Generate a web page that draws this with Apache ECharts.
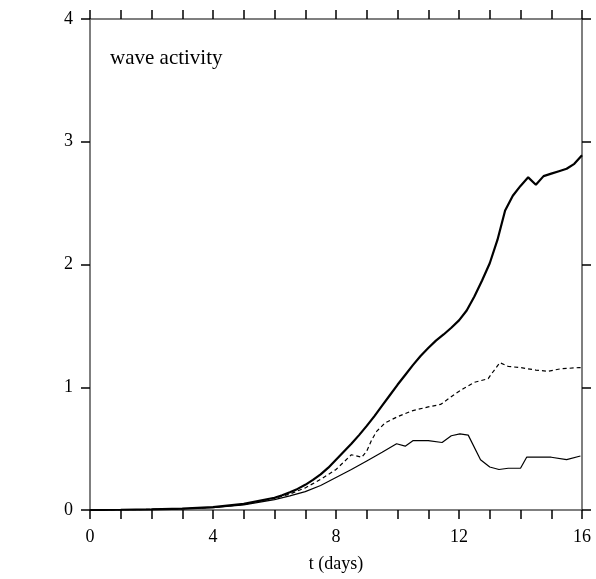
<!DOCTYPE html>
<html>
<head>
<meta charset="utf-8">
<script src="https://cdn.jsdelivr.net/npm/echarts@6/dist/echarts.min.js"></script>
<style>
  html, body { margin: 0; padding: 0; background: #fff; }
  #chart { width: 596px; height: 579px; }
</style>
</head>
<body>
<div id="chart"></div>
<script>
// Wave activity versus time (days): total, dashed and thin components
const tTotal = [0, 1, 2, 3, 4, 5, 6, 6.25, 6.5, 6.75, 7, 7.25, 7.5, 7.75, 8, 8.25, 8.5, 8.75, 9, 9.25, 9.5, 9.75, 10, 10.25, 10.5, 10.75, 11, 11.25, 11.5, 11.75, 12, 12.25, 12.5, 12.75, 13, 13.25, 13.5, 13.75, 14, 14.25, 14.5, 14.75, 15, 15.25, 15.5, 15.75, 16];
const vTotal = [0, 0.002, 0.005, 0.011, 0.024, 0.05, 0.1, 0.12, 0.145, 0.172, 0.205, 0.245, 0.29, 0.345, 0.41, 0.475, 0.54, 0.61, 0.685, 0.765, 0.85, 0.935, 1.02, 1.1, 1.18, 1.255, 1.32, 1.38, 1.43, 1.485, 1.545, 1.625, 1.74, 1.87, 2.01, 2.2, 2.44, 2.56, 2.64, 2.71, 2.65, 2.72, 2.74, 2.76, 2.78, 2.82, 2.89];

const tDashed = [0, 1, 2, 3, 4, 5, 6, 6.5, 7, 7.5, 8, 8.5, 8.84, 9.0, 9.16, 9.32, 9.6, 10, 10.5, 11, 11.4, 11.9, 12.15, 12.5, 12.95, 13.06, 13.33, 13.6, 14, 14.5, 14.9, 15.3, 15.9, 16];
const vDashed = [0, 0.002, 0.005, 0.01, 0.022, 0.046, 0.095, 0.13, 0.18, 0.25, 0.33, 0.45, 0.43, 0.48, 0.57, 0.64, 0.71, 0.76, 0.81, 0.84, 0.86, 0.95, 0.99, 1.04, 1.07, 1.11, 1.20, 1.17, 1.16, 1.14, 1.13, 1.15, 1.16, 1.16];

const tThin = [0, 1, 2, 3, 4, 5, 6, 6.5, 7, 7.5, 8, 8.5, 9, 9.5, 9.97, 10.25, 10.5, 11, 11.45, 11.75, 12.03, 12.3, 12.7, 13.0, 13.3, 13.6, 14.0, 14.2, 14.5, 15.0, 15.5, 15.95];
const vThin = [0, 0.002, 0.005, 0.01, 0.02, 0.042, 0.085, 0.115, 0.15, 0.2, 0.265, 0.33, 0.4, 0.47, 0.54, 0.52, 0.565, 0.565, 0.55, 0.605, 0.62, 0.61, 0.41, 0.35, 0.33, 0.34, 0.34, 0.43, 0.43, 0.43, 0.41, 0.44];

const xLabelStep = 4;
const xLabel = 't (days)';
const panelLabel = 'wave activity';

const pairs = (ts, vs) => ts.map((t, i) => [t, vs[i]]);

const FONT = 'Liberation Serif';
const axisLine = { show: true, onZero: false, lineStyle: { color: '#555', width: 1.5 } };
const axisTick = { show: true, inside: false, length: 9, lineStyle: { color: '#000', width: 1.5 } };

const chart = echarts.init(document.getElementById('chart'), null, { renderer: 'canvas' });
chart.setOption({
  animation: false,
  backgroundColor: '#fff',
  grid: { left: 90, right: 14, top: 19, bottom: 69, containLabel: false },
  title: {
    text: panelLabel, left: 105, top: 43,
    textStyle: { fontFamily: FONT, fontSize: 21, fontWeight: 'normal', color: '#000' }
  },
  xAxis: [
    {
      type: 'value', min: 0, max: 16, interval: 1, position: 'bottom',
      name: xLabel, nameLocation: 'middle', nameGap: 45,
      nameTextStyle: { fontFamily: FONT, fontSize: 18, color: '#000' },
      axisLine, axisTick, splitLine: { show: false },
      axisLabel: {
        margin: 18, fontFamily: FONT, fontSize: 18, color: '#000',
        formatter: v => (v % xLabelStep === 0 ? String(v) : '')
      }
    },
    {
      type: 'value', min: 0, max: 16, interval: 1, position: 'top',
      axisLine, axisTick, splitLine: { show: false }, axisLabel: { show: false }
    }
  ],
  yAxis: [
    {
      type: 'value', min: 0, max: 4, interval: 1, position: 'left',
      axisLine, axisTick, splitLine: { show: false },
      axisLabel: { margin: 17, fontFamily: FONT, fontSize: 18, color: '#000' }
    },
    {
      type: 'value', min: 0, max: 4, interval: 1, position: 'right',
      axisLine, axisTick, splitLine: { show: false }, axisLabel: { show: false }
    }
  ],
  series: [
    {
      type: 'line', data: pairs(tTotal, vTotal), showSymbol: false,
      lineStyle: { color: '#000', width: 2.2 }, z: 3
    },
    {
      type: 'line', data: pairs(tDashed, vDashed), showSymbol: false,
      lineStyle: { color: '#000', width: 1.2, type: [4, 3] }, z: 2
    },
    {
      type: 'line', data: pairs(tThin, vThin), showSymbol: false,
      lineStyle: { color: '#000', width: 1.2 }, z: 2
    }
  ]
});
</script>
</body>
</html>
